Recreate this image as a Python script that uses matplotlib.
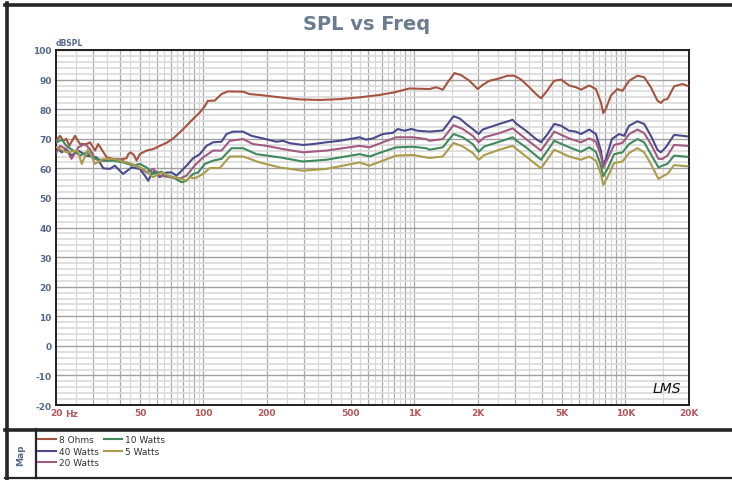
import numpy as np
import matplotlib
matplotlib.use("Agg")
import matplotlib.pyplot as plt
from matplotlib.lines import Line2D

plt.rcParams["axes.unicode_minus"] = False

# ---------------- data ----------------
f_8ohm = [20.0, 20.9, 21.7, 22.4, 23.1, 24.6, 26.0, 27.9, 29.0, 30.6, 31.7, 34.8, 37.3, 40.2,
          43.2, 44.0, 45.1, 46.8, 48.2, 49.9, 53.7, 57.7, 62.1, 66.8, 71.8, 77.3, 83.1, 89.3,
          96.1, 101.5, 104.8, 113.1, 121.7, 130.3, 154.0, 165.6, 184.7, 229.7, 285.7, 355.1,
          441.6, 549.1, 682.9, 804.4, 947.4, 1056, 1178, 1267, 1362, 1438, 1547, 1664, 1821,
          1994, 2104, 2265, 2525, 2764, 2974, 3199, 3503, 3768, 3977, 4201, 4597, 4948, 5414,
          5825, 6152, 6734, 7240, 7648, 7843, 8076, 8527, 9160, 9671, 10408, 11395, 12262,
          13191, 14170, 14705, 15244, 15801, 17000, 18615, 19656]
spl_8ohm = [69.3, 71.0, 69.3, 70.0, 67.6, 71.0, 68.2, 68.2, 68.8, 66.0, 68.2, 63.7, 63.2, 63.0,
            63.4, 64.8, 65.4, 64.5, 62.6, 64.8, 66.0, 66.5, 67.6, 68.6, 70.1, 72.2, 74.4, 76.7,
            78.9, 81.0, 82.8, 82.9, 85.1, 86.0, 85.9, 85.1, 84.8, 84.0, 83.3, 83.1,
            83.4, 84.0, 84.8, 85.7, 87.0, 86.9, 86.8, 87.4, 86.6, 89.1, 92.2, 91.5, 89.6,
            86.8, 88.2, 89.6, 90.4, 91.3, 91.3, 90.0, 87.4, 85.1, 83.7, 85.7, 89.6, 90.0, 88.0,
            87.4, 86.6, 88.0, 86.8, 82.3, 78.7, 80.1, 84.6, 86.8, 86.2, 89.6, 91.3, 90.8,
            87.4, 82.9, 82.1, 83.2, 83.4, 87.7, 88.5, 87.9]

f_40w = [20.15, 21.3, 22.4, 23.7, 25.5, 27.9, 31.2, 33.5, 36.0, 38.0, 41.6, 45.6, 49.9, 52.8,
         54.7, 56.8, 58.8, 62.1, 66.8, 70.6, 74.5, 77.3, 83.1, 89.3, 96.1, 103.4, 111.0, 121.7,
         128.6, 138.1, 154.0, 168.7, 191.5, 221.6, 238.1, 256.2, 296.1, 330.2, 382.0, 441.6,
         549.1, 590.6, 635.0, 708.0, 789.6, 833.9, 897.0, 965.0, 1036.8, 1136, 1178, 1362,
         1438, 1530, 1634, 1757, 1888, 2015, 2104, 2265, 2525, 2919, 3050, 3379, 3768, 3977,
         4275, 4597, 4948, 5414, 5825, 6152, 6734, 7240, 7648, 7843, 8076, 8622, 9331, 9853,
         10408, 11395, 12262, 13191, 14170, 14705, 15530, 17000, 18615, 19656]
spl_40w = [67.1, 65.4, 66.5, 64.3, 66.0, 64.3, 63.7, 60.0, 59.8, 60.9, 58.1, 60.3, 59.8, 57.5,
           55.8, 58.1, 59.2, 57.0, 58.6, 58.6, 57.5, 58.6, 60.9, 63.4, 64.8, 67.6, 68.8, 69.0,
           71.6, 72.4, 72.4, 71.0, 70.1, 69.0, 69.3, 68.5, 67.9, 68.2, 68.8, 69.3,
           70.5, 69.7, 70.1, 71.6, 72.0, 73.3, 72.7, 73.3, 72.7, 72.5, 72.4, 72.8,
           75.0, 77.6, 76.9, 75.0, 73.3, 71.6, 73.1, 73.9, 75.0, 76.4, 75.0, 72.7, 69.9, 68.8,
           71.6, 75.0, 74.4, 72.7, 72.4, 71.6, 73.1, 71.6, 66.0, 60.9, 63.2, 69.9, 71.6, 71.0,
           74.4, 75.9, 75.0, 71.0, 66.3, 65.4, 67.1, 71.3, 71.0, 70.8]

f_20w = [20.15, 20.9, 22.4, 23.7, 25.5, 27.4, 29.0, 30.6, 32.3, 36.0, 38.8, 43.2, 48.2, 53.7,
         57.7, 62.1, 69.3, 77.3, 83.1, 90.9, 99.6, 111.0, 121.7, 133.2, 154.0, 171.7, 198.7,
         238.1, 296.1, 382.0, 549.1, 612.5, 708.0, 819.5, 982.0, 1136, 1178, 1362, 1530, 1693,
         1888, 2015, 2144, 2525, 2919, 3050, 3379, 3977, 4597, 5414, 6152, 6734, 7240, 7648,
         7843, 8218, 8839, 9671, 10408, 11395, 12262, 13191, 14327, 14965, 15801, 17000, 19656]
spl_20w = [65.4, 67.6, 66.5, 63.2, 67.1, 68.2, 66.5, 63.2, 62.6, 62.6, 63.2, 62.0, 60.9, 58.6,
           59.8, 57.5, 57.0, 56.6, 57.5, 61.0, 63.7, 66.0, 66.0, 69.3, 69.9, 68.2, 67.6,
           66.5, 65.4, 66.0, 67.6, 67.1, 68.8, 70.5, 70.5, 69.9, 69.3, 69.9, 74.6, 73.3,
           71.0, 68.8, 70.5, 71.9, 73.5, 72.4, 69.9, 66.0, 72.4, 70.1, 68.8, 70.1, 69.0, 64.3,
           60.3, 63.2, 67.9, 68.6, 71.6, 73.1, 71.9, 68.2, 63.2, 63.2, 64.3, 67.9, 67.6]

f_10w = [20.15, 21.3, 22.4, 24.1, 26.0, 27.9, 30.0, 33.5, 37.3, 41.6, 46.4, 49.9, 53.7, 57.7,
         63.3, 66.8, 71.8, 78.7, 83.1, 86.1, 89.3, 94.3, 101.5, 111.0, 121.7, 135.7, 154.0,
         178.2, 229.7, 296.1, 382.0, 549.1, 612.5, 708.0, 819.5, 982.0, 1136, 1178, 1362, 1530,
         1693, 1888, 2015, 2144, 2525, 2919, 3050, 3379, 3977, 4597, 5414, 6152, 6734, 7240,
         7648, 7843, 8218, 8839, 9671, 10408, 11395, 12262, 13191, 14327, 14965, 15801, 17000,
         19656]
spl_10w = [68.8, 69.7, 67.6, 66.0, 64.3, 65.4, 63.7, 62.6, 62.6, 62.0, 60.9, 61.5, 60.3, 58.1,
           58.9, 57.5, 57.0, 55.3, 55.8, 57.0, 58.1, 58.6, 61.5, 62.6, 63.2, 66.8, 66.8,
           64.8, 63.7, 62.3, 62.9, 64.8, 64.0, 65.6, 67.1, 67.3, 66.8, 66.3, 67.1, 71.6,
           70.5, 68.2, 65.6, 67.4, 69.0, 70.5, 69.3, 67.1, 62.9, 69.3, 67.1, 65.6, 67.1, 65.6,
           60.9, 57.3, 59.8, 64.8, 65.4, 68.2, 69.9, 68.8, 64.8, 60.3, 60.9, 61.5, 64.3,
           63.9]

f_5w = [20.15, 22.4, 25.3, 26.5, 28.4, 30.6, 33.5, 37.3, 41.6, 46.4, 51.8, 57.7, 63.3, 69.3,
        77.3, 83.1, 86.1, 90.9, 99.6, 107.1, 119.5, 133.2, 154.0, 184.7, 229.7, 296.1, 382.0,
        549.1, 612.5, 708.0, 819.5, 982.0, 1136, 1178, 1362, 1530, 1693, 1888, 2015, 2144,
        2525, 2919, 3050, 3379, 3977, 4597, 5414, 6152, 6734, 7240, 7648, 7843, 8218, 8839,
        9671, 10408, 11395, 12262, 13191, 14327, 14965, 15801, 17000, 19656]
spl_5w = [67.1, 65.4, 66.0, 61.5, 66.5, 61.5, 63.2, 63.2, 62.3, 61.2, 59.8, 57.0, 58.6, 57.3,
          56.6, 55.8, 57.0, 56.6, 58.1, 60.1, 60.1, 64.0, 64.0, 62.0, 60.3, 59.2, 59.8,
          62.0, 60.9, 62.6, 64.3, 64.5, 63.7, 63.5, 64.0, 68.6, 67.4, 65.2, 62.9, 64.5,
          66.3, 67.6, 66.5, 64.0, 60.0, 66.3, 64.0, 62.9, 64.0, 62.6, 58.1, 54.4, 57.0, 61.8,
          62.3, 65.2, 66.8, 65.4, 61.5, 56.4, 57.3, 58.1, 61.1, 60.7]

series_names = ["8 Ohms", "40 Watts", "20 Watts", "10 Watts", "5 Watts"]
series_f = [f_8ohm, f_40w, f_20w, f_10w, f_5w]
series_spl = [spl_8ohm, spl_40w, spl_20w, spl_10w, spl_5w]
series_colors = ["#a5553f", "#4a4a8c", "#a25a80", "#3f8a5c", "#aa9c4c"]

x_ticks = [20, 50, 100, 200, 500, 1000, 2000, 5000, 10000, 20000]
x_labels = ["20", "50", "100", "200", "500", "1K", "2K", "5K", "10K", "20K"]
y_ticks = list(range(-20, 101, 10))

# ---------------- figure ----------------
W, H = 732, 481
fig = plt.figure(figsize=(W / 100, H / 100), dpi=100)
fig.patch.set_facecolor("white")

def fx(px):
    return px / W

def fy(py):
    return 1 - py / H

ax = fig.add_axes([fx(56), fy(406), fx(689) - fx(56), fy(51) - fy(406)])
ax.set_xscale("log")
ax.set_xlim(20, 20000)
ax.set_ylim(-20, 100)

# grid: darker at k*10^n, lighter at (k+0.5)*10^n
for dec in [10, 100, 1000, 10000]:
    for k in range(1, 10):
        v = k * dec
        if 20 < v < 20000:
            ax.axvline(v, color="#ababab", lw=0.9, zorder=0)
        h = (k + 0.5) * dec
        if 20 < h < 20000:
            ax.axvline(h, color="#d8d8d8", lw=0.9, zorder=0)
for v in range(-20, 101, 2):
    if v % 10 == 0:
        ax.axhline(v, color="#a0a0a0", lw=1.0, zorder=0)
    else:
        ax.axhline(v, color="#dadada", lw=1.2, zorder=0)

for name, f, s, c in zip(series_names, series_f, series_spl, series_colors):
    ax.plot(f, s, color=c, lw=1.5, label=name, zorder=3)

ax.set_xticks(x_ticks)
ax.set_xticklabels(x_labels)
ax.xaxis.set_minor_locator(matplotlib.ticker.NullLocator())
ax.set_yticks(y_ticks)
ax.tick_params(axis="both", length=0)
ax.tick_params(axis="x", pad=2.5, labelsize=6.5, labelcolor="#b5575a")
ax.tick_params(axis="y", pad=3, labelsize=6.5, labelcolor="#56698a")
for lab in ax.get_xticklabels() + ax.get_yticklabels():
    lab.set_fontweight("bold")
for sp in ax.spines.values():
    sp.set_color("#202020")
    sp.set_linewidth(1.4)

ax.text(23.8, -0.012, "Hz", transform=ax.get_xaxis_transform(), ha="center", va="top",
        fontsize=6.5, fontweight="bold", color="#b5575a")
fig.text(fx(56), fy(43), "dBSPL", fontsize=5.5, fontweight="bold", color="#56698a",
         ha="left", va="center")
fig.text(fx(367), fy(25), "SPL vs Freq", fontsize=14, fontweight="bold", color="#6b7b90",
         ha="center", va="center")
fig.text(fx(667), fy(389), "LMS", fontsize=10, style="italic", color="#111111",
         ha="center", va="center", fontweight="light")

# outer frame lines
frame_c = "#262626"
fig.add_artist(Line2D([fx(5), 1], [fy(5.5), fy(5.5)], color=frame_c, lw=2.6))
fig.add_artist(Line2D([fx(6.5), fx(6.5)], [fy(4), fy(480)], color=frame_c, lw=2.6))
fig.add_artist(Line2D([fx(5), 1], [fy(430.5), fy(430.5)], color=frame_c, lw=2.6))
fig.add_artist(Line2D([fx(5), 1], [fy(479), fy(479)], color=frame_c, lw=1.6))
fig.add_artist(Line2D([fx(36), fx(36)], [fy(430), fy(479)], color=frame_c, lw=1.6))

fig.text(fx(21), fy(455), "Map", rotation=90, fontsize=6.5, fontweight="bold",
         color="#56698a", ha="center", va="center")

handles, labels = ax.get_legend_handles_labels()
fig.legend(handles, labels, loc="upper left", bbox_to_anchor=(fx(38), fy(436)), ncol=2,
           frameon=False, fontsize=6.5, handlelength=2.0, handletextpad=0.3,
           labelspacing=0.3, columnspacing=0.6, borderaxespad=0, borderpad=0,
           labelcolor="#333333")

fig.savefig("out.png", dpi=100, facecolor="white")
